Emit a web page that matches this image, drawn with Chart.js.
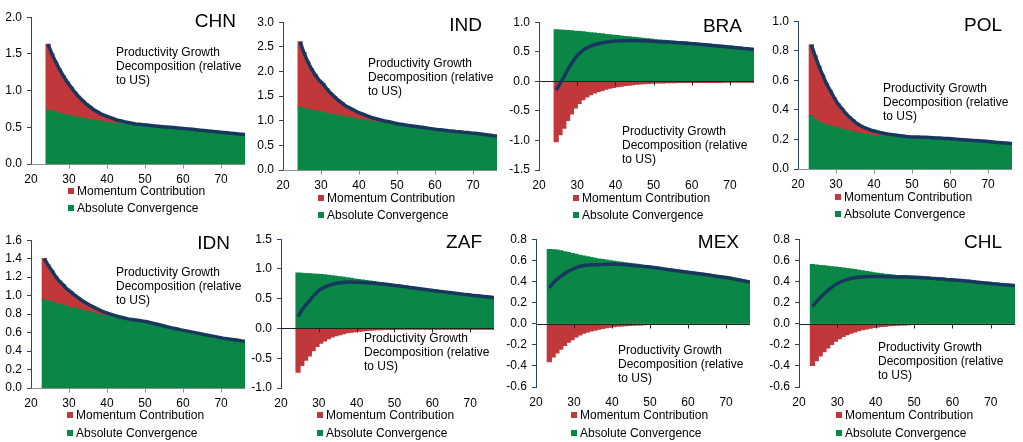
<!DOCTYPE html>
<html lang="en">
<head>
<meta charset="UTF-8">
<title>Productivity Growth Decomposition</title>
<script src="https://cdn.jsdelivr.net/npm/chart.js@4"></script>
<style>
  body { margin: 0; background: #fff; width: 1023px; height: 442px; overflow: hidden; position: relative;
         font-family: "Liberation Sans", Arial, sans-serif; color: #000; }
  canvas { position: absolute; }
  .country { position: absolute; font-size: 19px; line-height: 19px; white-space: nowrap; }
  .note { position: absolute; font-size: 12px; line-height: 14px; white-space: nowrap; }
  .leg { position: absolute; font-size: 12px; line-height: 14px; white-space: nowrap; }
  .leg i { display: inline-block; width: 6px; height: 6px; margin-right: 3px; vertical-align: 1px; }
</style>
</head>
<body>
<script>
// ages on the horizontal axis (each panel uses the last N of these)
const ages = [23, 24, 25, 26, 27, 28, 29, 30, 31, 32, 33, 34, 35, 36, 37, 38, 39, 40, 41, 42, 43, 44, 45, 46, 47, 48, 49, 50,
  51, 52, 53, 54, 55, 56, 57, 58, 59, 60, 61, 62, 63, 64, 65, 66, 67, 68, 69, 70, 71, 72, 73, 74, 75, 76];

// CHN, ages 24-76
const chnAbs = [0.73, 0.72, 0.71, 0.69, 0.68, 0.66, 0.65, 0.64, 0.63, 0.62, 0.61, 0.60, 0.59, 0.585, 0.58, 0.57, 0.56,
  0.555, 0.55, 0.545, 0.54, 0.535, 0.53, 0.525, 0.52, 0.515, 0.51,
  0.506, 0.502, 0.498, 0.494, 0.49, 0.486, 0.482, 0.478, 0.474, 0.47,
  0.465, 0.46, 0.455, 0.45, 0.445, 0.44, 0.435, 0.43, 0.425, 0.42,
  0.415, 0.41, 0.405, 0.40, 0.395, 0.39];
const chnMom = [0.90, 0.78, 0.68, 0.60, 0.52, 0.46, 0.40, 0.34, 0.29, 0.25, 0.21, 0.18, 0.15, 0.125, 0.10, 0.09, 0.08,
  0.065, 0.05, 0.045, 0.035, 0.03, 0.025, 0.02, 0.02, 0.02, 0.02,
  0.018, 0.017, 0.016, 0.015, 0.015, 0.014, 0.014, 0.013, 0.013, 0.012,
  0.012, 0.012, 0.011, 0.011, 0.011, 0.01, 0.01, 0.01, 0.01, 0.01,
  0.01, 0.01, 0.01, 0.01, 0.01, 0.01];

// IND, ages 24-76
const indAbs = [1.27, 1.25, 1.23, 1.21, 1.20, 1.18, 1.17, 1.15, 1.13, 1.12, 1.10, 1.09, 1.07, 1.06, 1.05, 1.03, 1.02,
  1.01, 0.995, 0.98, 0.97, 0.96, 0.95, 0.94, 0.93, 0.915, 0.905,
  0.895, 0.885, 0.875, 0.865, 0.855, 0.845, 0.835, 0.825, 0.815, 0.805,
  0.80, 0.79, 0.78, 0.775, 0.765, 0.76, 0.75, 0.745, 0.735, 0.73,
  0.72, 0.71, 0.70, 0.69, 0.68, 0.675];
const indMom = [1.33, 1.13, 0.97, 0.84, 0.73, 0.64, 0.58, 0.50, 0.43, 0.37, 0.32, 0.27, 0.23, 0.20, 0.17, 0.15, 0.13,
  0.11, 0.095, 0.08, 0.07, 0.06, 0.05, 0.045, 0.04, 0.035, 0.03,
  0.028, 0.026, 0.025, 0.024, 0.023, 0.022, 0.021, 0.02, 0.02, 0.019,
  0.019, 0.018, 0.018, 0.017, 0.017, 0.016, 0.016, 0.016, 0.015, 0.015,
  0.015, 0.015, 0.015, 0.015, 0.015, 0.015];

// BRA, ages 24-76
const braAbs = [0.87, 0.865, 0.86, 0.855, 0.85, 0.845, 0.84, 0.833, 0.826, 0.82, 0.813, 0.806, 0.80, 0.79, 0.785, 0.777, 0.77,
  0.763, 0.756, 0.75, 0.743, 0.736, 0.73, 0.723, 0.716, 0.708, 0.70,
  0.695, 0.69, 0.685, 0.68, 0.675, 0.67, 0.665, 0.66, 0.655, 0.65,
  0.644, 0.638, 0.632, 0.626, 0.62, 0.614, 0.608, 0.602, 0.596, 0.59,
  0.583, 0.576, 0.57, 0.563, 0.556, 0.55];
const braMom = [-1.02, -0.90, -0.79, -0.66, -0.55, -0.45, -0.37, -0.31, -0.26, -0.225, -0.195, -0.17, -0.15, -0.13, -0.115, -0.10, -0.088,
  -0.078, -0.069, -0.061, -0.054, -0.048, -0.043, -0.038, -0.034, -0.03, -0.027,
  -0.025, -0.023, -0.021, -0.02, -0.019, -0.018, -0.018, -0.017, -0.017, -0.016,
  -0.016, -0.016, -0.015, -0.015, -0.015, -0.015, -0.015, -0.014, -0.014, -0.014,
  -0.014, -0.014, -0.014, -0.013, -0.013, -0.013];

// POL, ages 23-76
const polAbs = [0.36, 0.335, 0.316, 0.305, 0.297, 0.29, 0.283, 0.276,
  0.27, 0.263, 0.257, 0.25, 0.243, 0.238, 0.234, 0.23, 0.227, 0.225,
  0.223, 0.221, 0.219, 0.217, 0.216, 0.214, 0.212, 0.21, 0.208, 0.207,
  0.206, 0.205, 0.204, 0.203, 0.202, 0.2, 0.199, 0.197, 0.196, 0.194,
  0.192, 0.19, 0.189, 0.187, 0.185, 0.183, 0.182, 0.18, 0.178, 0.176,
  0.174, 0.172, 0.17, 0.168, 0.166, 0.165];
const polMom = [0.48, 0.43, 0.38, 0.33, 0.28, 0.24, 0.20, 0.165,
  0.14, 0.115, 0.095, 0.08, 0.065, 0.055, 0.045, 0.04, 0.033, 0.029,
  0.025, 0.021, 0.018, 0.016, 0.014, 0.012, 0.011, 0.01, 0.01, 0.01,
  0.01, 0.01, 0.01, 0.01, 0.01, 0.01, 0.01, 0.01, 0.01, 0.01,
  0.01, 0.01, 0.009, 0.009, 0.009, 0.009, 0.009, 0.009, 0.009, 0.009,
  0.008, 0.008, 0.008, 0.008, 0.008, 0.008];

// IDN, ages 23-76
const idnAbs = [0.95, 0.94, 0.93, 0.915, 0.905, 0.895, 0.88, 0.87,
  0.86, 0.85, 0.84, 0.83, 0.82, 0.81, 0.80, 0.79, 0.78, 0.773,
  0.765, 0.758, 0.75, 0.743, 0.735, 0.73, 0.724, 0.718, 0.712, 0.705,
  0.695, 0.685, 0.675, 0.665, 0.655, 0.645, 0.635, 0.627, 0.618, 0.61,
  0.602, 0.594, 0.586, 0.578, 0.57, 0.562, 0.554, 0.546, 0.538, 0.53,
  0.524, 0.518, 0.512, 0.506, 0.50, 0.495];
const idnMom = [0.45, 0.39, 0.34, 0.29, 0.25, 0.22, 0.19, 0.17,
  0.145, 0.125, 0.105, 0.09, 0.075, 0.065, 0.055, 0.045, 0.038, 0.032,
  0.026, 0.022, 0.018, 0.015, 0.013, 0.012, 0.012, 0.012, 0.012, 0.012,
  0.012, 0.012, 0.012, 0.012, 0.011, 0.011, 0.011, 0.011, 0.011, 0.011,
  0.011, 0.011, 0.011, 0.011, 0.01, 0.01, 0.01, 0.01, 0.01, 0.01,
  0.01, 0.01, 0.01, 0.01, 0.01, 0.01];

// ZAF, ages 24-76
const zafAbs = [0.93, 0.926, 0.922, 0.918, 0.913, 0.909, 0.905,
  0.898, 0.89, 0.882, 0.875, 0.867, 0.858, 0.849, 0.84, 0.83, 0.82,
  0.811, 0.802, 0.793, 0.784, 0.775, 0.766, 0.757, 0.748, 0.739, 0.73,
  0.722, 0.713, 0.705, 0.696, 0.688, 0.679, 0.671, 0.662, 0.654, 0.645,
  0.637, 0.629, 0.621, 0.614, 0.606, 0.598, 0.59, 0.583, 0.575, 0.567,
  0.561, 0.555, 0.548, 0.542, 0.536, 0.53];
const zafMom = [-0.73, -0.62, -0.53, -0.46, -0.37, -0.30, -0.245,
  -0.205, -0.17, -0.14, -0.12, -0.10, -0.085, -0.07, -0.06, -0.052, -0.045,
  -0.038, -0.032, -0.027, -0.023, -0.02, -0.017, -0.015, -0.013, -0.012, -0.011,
  -0.01, -0.01, -0.01, -0.01, -0.01, -0.01, -0.01, -0.01, -0.01, -0.01,
  -0.01, -0.01, -0.01, -0.01, -0.01, -0.01, -0.01, -0.01, -0.01, -0.01,
  -0.01, -0.01, -0.01, -0.01, -0.01, -0.01];

// MEX, ages 23-76
const mexAbs = [0.70, 0.698, 0.695, 0.688, 0.68, 0.672, 0.663, 0.655,
  0.647, 0.64, 0.632, 0.625, 0.617, 0.611, 0.605, 0.60, 0.595, 0.59,
  0.585, 0.58, 0.575, 0.57, 0.565, 0.56, 0.555, 0.55, 0.545, 0.54,
  0.535, 0.53, 0.525, 0.52, 0.515, 0.51, 0.505, 0.50, 0.495, 0.49,
  0.485, 0.48, 0.475, 0.47, 0.465, 0.46, 0.455, 0.45, 0.445, 0.44,
  0.433, 0.426, 0.419, 0.412, 0.405, 0.398];
const mexMom = [-0.36, -0.315, -0.275, -0.24, -0.205, -0.175, -0.15, -0.125,
  -0.105, -0.09, -0.078, -0.068, -0.06, -0.052, -0.045, -0.038, -0.032, -0.027,
  -0.023, -0.02, -0.017, -0.015, -0.013, -0.011, -0.01, -0.008, -0.007, -0.006,
  -0.006, -0.006, -0.006, -0.006, -0.006, -0.006, -0.006, -0.006, -0.006, -0.006,
  -0.005, -0.005, -0.005, -0.005, -0.005, -0.005, -0.005, -0.005, -0.005, -0.005,
  -0.005, -0.005, -0.005, -0.005, -0.005, -0.005];

// CHL, ages 23-76
const chlAbs = [0.558, 0.554, 0.55, 0.546, 0.542, 0.538, 0.534, 0.53,
  0.525, 0.52, 0.515, 0.51, 0.505, 0.499, 0.493, 0.487, 0.481, 0.476,
  0.472, 0.467, 0.463, 0.459, 0.455, 0.453, 0.451, 0.449, 0.447, 0.445,
  0.443, 0.44, 0.438, 0.435, 0.433, 0.43, 0.428, 0.425, 0.423, 0.42,
  0.417, 0.413, 0.41, 0.406, 0.402, 0.398, 0.394, 0.391, 0.387, 0.383,
  0.38, 0.377, 0.374, 0.372, 0.369, 0.367];
const chlMom = [-0.395, -0.35, -0.305, -0.265, -0.228, -0.195, -0.165, -0.14,
  -0.12, -0.103, -0.088, -0.076, -0.065, -0.056, -0.048, -0.041, -0.035, -0.03,
  -0.026, -0.022, -0.019, -0.016, -0.014, -0.012, -0.01, -0.008, -0.007, -0.006,
  -0.006, -0.006, -0.006, -0.006, -0.006, -0.006, -0.006, -0.006, -0.006, -0.006,
  -0.005, -0.005, -0.005, -0.005, -0.005, -0.005, -0.005, -0.005, -0.005, -0.005,
  -0.005, -0.005, -0.005, -0.005, -0.005, -0.005];

const countries = ['CHN', 'IND', 'BRA', 'POL', 'IDN', 'ZAF', 'MEX', 'CHL'];
const absSeries = [chnAbs, indAbs, braAbs, polAbs, idnAbs, zafAbs, mexAbs, chlAbs];
const momSeries = [chnMom, indMom, braMom, polMom, idnMom, zafMom, mexMom, chlMom];
// y axis min, max, step
const yAxes = [[0, 2, 0.5], [0, 3, 0.5], [-1.5, 1, 0.5], [0, 1, 0.2],
               [0, 1.6, 0.2], [-1, 1.5, 0.5], [-0.6, 0.8, 0.2], [-0.6, 0.8, 0.2]];
const xTickLabels = [20, 30, 40, 50, 60, 70];

const noteText = ['Productivity Growth', 'Decomposition (relative', 'to US)'];
const legendLabels = ['Momentum Contribution', 'Absolute Convergence'];

// layout: y-axis x, plot top, plot bottom, plot right
const plotBoxes = [[31, 15, 164, 245], [283, 20, 170, 497], [539, 20, 170, 754], [798, 19, 169, 1012],
                   [31, 238, 388, 245], [281, 237, 388, 494], [536, 237, 387, 750], [799, 237, 387, 1015]];
// country label: right edge, vertical centre
const countryPos = [[236, 21], [482, 25], [742, 26], [1002, 25], [230, 243], [482, 242], [739, 242], [1002, 242]];
// note: left, first line centre
const notePos = [[116, 52], [368, 63], [622, 131], [883, 88], [116, 272], [364, 338], [618, 350], [878, 347]];
// legend: marker left, first row centre, second row centre
const legendPos = [[68, 191, 208], [318, 198, 215], [573, 198, 215], [835, 197, 214],
                   [67, 415, 433], [317, 415, 433], [571, 415, 433], [836, 415, 433]];

const GREEN = '#0A8746';
const RED = '#C0383A';
const NAVY = '#17375E';
const AXIS = '#24466F';

Chart.defaults.font.family = '"Liberation Sans", Arial, sans-serif';
Chart.defaults.font.size = 12;
Chart.defaults.color = '#000';

// horizontal axis line at zero with tick marks, drawn under the total line
const zeroAxis = {
  id: 'zeroAxis',
  beforeDatasetDraw(chart, args, opts) {
    if (args.meta.type !== 'line') return;
    const { ctx, chartArea: a, scales: { x, y } } = chart;
    const y0 = Math.round(y.getPixelForValue(0)) + 0.5;
    ctx.save();
    ctx.strokeStyle = opts.color;
    ctx.lineWidth = 1;
    ctx.beginPath();
    ctx.moveTo(a.left, y0);
    ctx.lineTo(a.right, y0);
    xTickLabels.forEach(v => {
      if (v <= x.min) return;
      const px = Math.round(x.getPixelForValue(v)) + 0.5;
      ctx.moveTo(px, y0);
      ctx.lineTo(px, y0 + 4);
    });
    ctx.stroke();
    ctx.restore();
  }
};

const Y_W = 30, X_H = 26, PAD_T = 10, PAD_R = 3;

countries.forEach((name, i) => {
  const abs = absSeries[i];
  const mom = momSeries[i];
  const xs = ages.slice(ages.length - abs.length);
  const [yMin, yMax, yStep] = yAxes[i];
  const [ax, top, bottom, right] = plotBoxes[i];

  const canvas = document.createElement('canvas');
  const left = ax - Y_W;
  const w = right - left + PAD_R;
  const h = bottom - top + PAD_T + X_H;
  canvas.width = w;
  canvas.height = h;
  canvas.style.left = left + 'px';
  canvas.style.top = (top - PAD_T) + 'px';
  canvas.style.width = w + 'px';
  canvas.style.height = h + 'px';
  document.body.appendChild(canvas);

  const barStyle = {
    borderWidth: 0,
    barPercentage: 1,
    categoryPercentage: 1,
    inflateAmount: 0.7,
    order: 1,
    clip: 0
  };

  new Chart(canvas, {
    type: 'bar',
    data: {
      datasets: [
        Object.assign({
          label: legendLabels[1],
          data: xs.map((a, k) => ({ x: a + 0.5, y: abs[k] })),
          backgroundColor: GREEN
        }, barStyle),
        Object.assign({
          label: legendLabels[0],
          data: xs.map((a, k) => ({ x: a + 0.5, y: mom[k] })),
          backgroundColor: RED
        }, barStyle),
        {
          type: 'line',
          label: 'Total',
          data: xs.map((a, k) => ({ x: a + 0.5, y: abs[k] + mom[k] })),
          borderColor: NAVY,
          borderWidth: 3.5,
          pointRadius: 0,
          tension: 0,
          stack: 'total',
          order: 0
        }
      ]
    },
    options: {
      responsive: false,
      animation: false,
      events: [],
      layout: { padding: { top: PAD_T, right: PAD_R, left: 0, bottom: 0 } },
      plugins: {
        legend: { display: false },
        tooltip: { enabled: false },
        zeroAxis: { color: yMin < 0 ? '#222' : '#8c8c8c' }
      },
      scales: {
        x: {
          type: 'linear',
          stacked: true,
          offset: false,
          min: 20,
          max: 76.3,
          grid: { display: false, drawTicks: false, tickLength: 0 },
          border: { display: false },
          ticks: {
            stepSize: 10,
            includeBounds: false,
            maxRotation: 0,
            padding: 8,
            autoSkip: false,
            callback: v => String(v)
          },
          afterFit: s => { s.height = X_H; }
        },
        y: {
          stacked: true,
          min: yMin,
          max: yMax,
          grid: { display: true, drawOnChartArea: false, drawTicks: true, tickLength: 4, color: AXIS },
          border: { display: true, color: AXIS, width: 1 },
          ticks: {
            stepSize: yStep,
            padding: 5,
            autoSkip: false,
            callback: v => (Math.abs(v) < 1e-9 ? 0 : v).toFixed(1)
          },
          afterFit: s => { s.width = Y_W; }
        }
      }
    },
    plugins: [zeroAxis]
  });

  // country label
  const c = document.createElement('div');
  c.className = 'country';
  c.textContent = name;
  c.style.right = (1023 - countryPos[i][0]) + 'px';
  c.style.top = (countryPos[i][1] - 10) + 'px';
  document.body.appendChild(c);

  // annotation
  const n = document.createElement('div');
  n.className = 'note';
  n.innerHTML = noteText.join('<br>');
  n.style.left = notePos[i][0] + 'px';
  n.style.top = (notePos[i][1] - 7) + 'px';
  document.body.appendChild(n);

  // legend
  [[RED, legendLabels[0], legendPos[i][1]], [GREEN, legendLabels[1], legendPos[i][2]]].forEach(([col, txt, cy]) => {
    const l = document.createElement('div');
    l.className = 'leg';
    l.innerHTML = '<i style="background:' + col + '"></i>' + txt;
    l.style.left = legendPos[i][0] + 'px';
    l.style.top = (cy - 7) + 'px';
    document.body.appendChild(l);
  });
});
</script>
</body>
</html>
